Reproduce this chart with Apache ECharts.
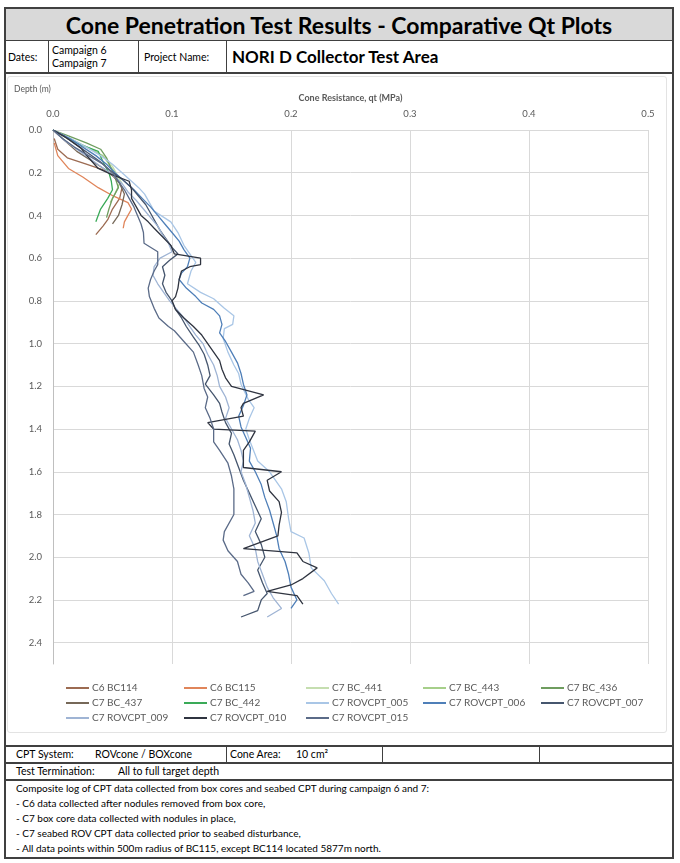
<!DOCTYPE html>
<html>
	<head>
		<meta charset="utf-8">
		<title>CPT Comparative Qt Plots</title>
		<style type="text/css">
			* {
				margin: 0;
				padding: 0;
			}

			body {
				width: 680px;
				height: 863px;
				background: #fff;
				font-family: Lato, "Open Sans", sans-serif;
				color: #000;
				position: relative;
			}

			.cell {
				position: absolute;
				box-sizing: border-box;
				white-space: nowrap;
			}

			#sheet {
				position: absolute;
				left: 4px;
				top: 7px;
				width: 670px;
				height: 852px;
				border: 2px solid #404040;
				box-sizing: border-box;
			}

			#cpt {
				position: absolute;
				left: 7px;
				top: 76px;
				width: 660px;
				height: 657px;
				border: 1px solid #e3e3e3;
				border-radius: 3px;
				box-sizing: border-box;
			}
		</style>
		<script src="https://cdn.jsdelivr.net/npm/echarts@6.0.0/dist/echarts.min.js"></script>
	</head>
	<body>
		<div id="sheet"></div>
		<!-- 标题行 -->
		<div class="cell" style="left:6px;top:9px;width:666px;height:32px;background:#d9d9d9;border-bottom:1.5px solid #404040;text-align:center;font-weight:bold;font-size:23px;line-height:32px;">Cone Penetration Test Results - Comparative Qt Plots</div>
		<!-- 日期 / 项目 -->
		<div class="cell" style="left:6px;top:41px;width:43px;height:32px;border-right:1.5px solid #404040;font-size:10.5px;line-height:32px;padding-left:2px;">Dates:</div>
		<div class="cell" style="left:49px;top:41px;width:90px;height:32px;border-right:1.5px solid #404040;font-size:10.5px;line-height:13px;padding:3px 0 0 3px;">Campaign 6<br>Campaign 7</div>
		<div class="cell" style="left:139px;top:41px;width:88px;height:32px;border-right:1.5px solid #404040;font-size:10.5px;line-height:32px;padding-left:5px;">Project Name:</div>
		<div class="cell" style="left:227px;top:41px;width:445px;height:32px;font-size:17px;font-weight:bold;line-height:32px;padding-left:5px;">NORI D Collector Test Area</div>
		<div class="cell" style="left:6px;top:72px;width:666px;height:1.5px;background:#404040;"></div>

		<div id="cpt"></div>

		<!-- 底部信息 -->
		<div class="cell" style="left:6px;top:745px;width:666px;height:1.5px;background:#404040;"></div>
		<div class="cell" style="left:6px;top:746px;width:221px;height:16px;border-right:1.5px solid #404040;font-size:10.5px;line-height:16px;padding-left:10px;">CPT System:<span style="position:absolute;left:89px;">ROVcone / BOXcone</span></div>
		<div class="cell" style="left:227px;top:746px;width:156px;height:16px;border-right:1.5px solid #404040;font-size:10.5px;line-height:16px;padding-left:3px;">Cone Area:<span style="position:absolute;left:69px;">10 cm²</span></div>
		<div class="cell" style="left:383px;top:746px;width:157px;height:16px;border-right:1.5px solid #404040;"></div>
		<div class="cell" style="left:6px;top:762px;width:666px;height:1.5px;background:#404040;"></div>
		<div class="cell" style="left:6px;top:763px;width:666px;height:16px;font-size:10.5px;line-height:17px;padding-left:10px;">Test Termination:<span style="position:absolute;left:112px;">All to full target depth</span></div>
		<div class="cell" style="left:6px;top:779px;width:666px;height:1.5px;background:#404040;"></div>
		<div class="cell" style="left:6px;top:781px;width:666px;font-size:10px;line-height:15px;padding-left:10px;">
			Composite log of CPT data collected from box cores and seabed CPT during campaign 6 and 7:<br>
			- C6 data collected after nodules removed from box core,<br>
			- C7 box core data collected with nodules in place,<br>
			- C7 seabed ROV CPT data collected prior to seabed disturbance,<br>
			- All data points within 500m radius of BC115, except BC114 located 5877m north.
		</div>
	</body>
	<script type="text/javascript">
		// 坐标轴刻度
		var qtTicks = [0, 0.1, 0.2, 0.3, 0.4, 0.5];
		var depthTicks = [0, 0.2, 0.4, 0.6, 0.8, 1.0, 1.2, 1.4, 1.6, 1.8, 2.0, 2.2, 2.4];

		// 每条曲线 [qt (MPa), depth (m)]
		var c6BC114 = [[0.001, 0.04], [0.004, 0.09], [0.012, 0.13], [0.028, 0.16], [0.044, 0.19], [0.054, 0.23], [0.058, 0.27], [0.056, 0.32], [0.05, 0.37], [0.046, 0.42], [0.042, 0.45], [0.036, 0.49]];
		var c6BC115 = [[0.001, 0.06], [0.004, 0.12], [0.013, 0.18], [0.025, 0.22], [0.038, 0.27], [0.051, 0.31], [0.063, 0.34], [0.066, 0.37], [0.063, 0.4], [0.06, 0.43], [0.059, 0.46]];
		var c7BC441 = [[0, 0], [0.018, 0.05], [0.032, 0.09], [0.044, 0.13], [0.05, 0.17], [0.054, 0.21], [0.058, 0.25]];
		var c7BC443 = [[0, 0], [0.012, 0.04], [0.028, 0.08], [0.042, 0.12], [0.047, 0.16], [0.052, 0.2], [0.056, 0.25], [0.052, 0.3], [0.048, 0.34]];
		var c7BC436 = [[0, 0], [0.014, 0.03], [0.028, 0.06], [0.04, 0.09], [0.045, 0.13], [0.048, 0.17], [0.052, 0.22], [0.055, 0.27], [0.05, 0.32], [0.047, 0.37], [0.045, 0.41]];
		var c7BC437 = [[0, 0], [0.01, 0.05], [0.02, 0.1], [0.034, 0.15], [0.048, 0.2], [0.056, 0.25], [0.06, 0.3], [0.058, 0.35], [0.055, 0.4], [0.05, 0.44]];
		var c7BC442 = [[0, 0], [0.01, 0.03], [0.024, 0.07], [0.038, 0.1], [0.043, 0.16], [0.047, 0.2], [0.049, 0.24], [0.05, 0.28], [0.046, 0.32], [0.04, 0.37], [0.036, 0.43]];
		var c7ROV005 = [[0, 0], [0.015, 0.04], [0.028, 0.08], [0.04, 0.12], [0.05, 0.16], [0.058, 0.2], [0.066, 0.24], [0.072, 0.27], [0.077, 0.3], [0.085, 0.38], [0.099, 0.43], [0.105, 0.48], [0.11, 0.54], [0.115, 0.58], [0.12, 0.62], [0.116, 0.66], [0.113, 0.72], [0.124, 0.76], [0.135, 0.79], [0.144, 0.835], [0.152, 0.87], [0.151, 0.91], [0.144, 0.93], [0.143, 0.976], [0.147, 1.04], [0.152, 1.1], [0.156, 1.14], [0.158, 1.19], [0.164, 1.26], [0.169, 1.3], [0.165, 1.35], [0.162, 1.4], [0.165, 1.45], [0.172, 1.55], [0.182, 1.6], [0.192, 1.68], [0.196, 1.74], [0.198, 1.82], [0.2, 1.88], [0.211, 1.91], [0.215, 1.98], [0.217, 2.05], [0.228, 2.11], [0.234, 2.17], [0.24, 2.22]];
		var c7ROV006 = [[0, 0], [0.014, 0.04], [0.025, 0.08], [0.036, 0.12], [0.045, 0.16], [0.052, 0.2], [0.06, 0.24], [0.068, 0.28], [0.075, 0.32], [0.082, 0.36], [0.088, 0.4], [0.094, 0.44], [0.1, 0.48], [0.106, 0.52], [0.11, 0.56], [0.115, 0.6], [0.113, 0.64], [0.108, 0.67], [0.106, 0.7], [0.112, 0.74], [0.12, 0.78], [0.125, 0.81], [0.135, 0.84], [0.14, 0.87], [0.142, 0.91], [0.14, 0.95], [0.145, 0.99], [0.15, 1.04], [0.155, 1.09], [0.158, 1.14], [0.16, 1.19], [0.163, 1.24], [0.16, 1.29], [0.156, 1.34], [0.158, 1.39], [0.162, 1.44], [0.166, 1.49], [0.165, 1.55], [0.17, 1.6], [0.175, 1.66], [0.178, 1.72], [0.182, 1.78], [0.185, 1.84], [0.188, 1.9], [0.19, 1.96], [0.195, 2.02], [0.198, 2.08], [0.2, 2.14], [0.205, 2.2], [0.2, 2.24]];
		var c7ROV007 = [[0, 0], [0.01, 0.03], [0.02, 0.07], [0.03, 0.11], [0.04, 0.15], [0.048, 0.19], [0.058, 0.23], [0.066, 0.27], [0.072, 0.31], [0.078, 0.35], [0.082, 0.39], [0.086, 0.43], [0.09, 0.47], [0.095, 0.51], [0.1, 0.55], [0.105, 0.58], [0.098, 0.61], [0.092, 0.64], [0.094, 0.68], [0.092, 0.72], [0.095, 0.76], [0.1, 0.8], [0.103, 0.84], [0.108, 0.88], [0.112, 0.92], [0.118, 0.97], [0.123, 1.01], [0.127, 1.05], [0.13, 1.1], [0.132, 1.15], [0.128, 1.19], [0.135, 1.24], [0.14, 1.28], [0.142, 1.32], [0.145, 1.37], [0.15, 1.42], [0.148, 1.47], [0.152, 1.52], [0.156, 1.58], [0.16, 1.64], [0.165, 1.7], [0.17, 1.76], [0.175, 1.82], [0.17, 1.88], [0.175, 1.94], [0.178, 2.0], [0.172, 2.06], [0.176, 2.12], [0.18, 2.17], [0.175, 2.2], [0.172, 2.25], [0.158, 2.28]];
		var c7ROV009 = [[0, 0], [0.01, 0.05], [0.02, 0.09], [0.03, 0.13], [0.04, 0.17], [0.05, 0.21], [0.058, 0.25], [0.063, 0.29], [0.07, 0.33], [0.076, 0.37], [0.082, 0.41], [0.088, 0.45], [0.092, 0.49], [0.097, 0.53], [0.1, 0.57], [0.09, 0.6], [0.085, 0.64], [0.084, 0.68], [0.088, 0.72], [0.093, 0.76], [0.098, 0.8], [0.104, 0.84], [0.11, 0.88], [0.115, 0.92], [0.12, 0.96], [0.126, 1.0], [0.13, 1.05], [0.135, 1.1], [0.138, 1.15], [0.14, 1.2], [0.145, 1.25], [0.148, 1.3], [0.145, 1.35], [0.15, 1.4], [0.155, 1.45], [0.158, 1.5], [0.16, 1.55], [0.158, 1.6], [0.162, 1.66], [0.165, 1.72], [0.168, 1.78], [0.17, 1.84], [0.165, 1.9], [0.17, 1.96], [0.172, 2.02], [0.176, 2.08], [0.18, 2.14], [0.185, 2.19], [0.192, 2.24], [0.18, 2.28]];
		var c7ROV010 = [[0, 0], [0.012, 0.04], [0.0235, 0.085], [0.03, 0.13], [0.038, 0.18], [0.05, 0.21], [0.064, 0.24], [0.066, 0.28], [0.066, 0.32], [0.07, 0.36], [0.074, 0.4], [0.08, 0.43], [0.085, 0.46], [0.092, 0.5], [0.099, 0.54], [0.102, 0.58], [0.124, 0.6], [0.124, 0.63], [0.115, 0.64], [0.108, 0.66], [0.106, 0.7], [0.105, 0.74], [0.103, 0.78], [0.1, 0.8], [0.103, 0.84], [0.11, 0.88], [0.118, 0.92], [0.125, 0.96], [0.13, 1.0], [0.135, 1.04], [0.14, 1.08], [0.142, 1.12], [0.145, 1.16], [0.15, 1.2], [0.177, 1.24], [0.16, 1.28], [0.158, 1.3], [0.16, 1.34], [0.13, 1.37], [0.135, 1.4], [0.17, 1.41], [0.165, 1.46], [0.16, 1.5], [0.16, 1.58], [0.192, 1.6], [0.18, 1.64], [0.182, 1.69], [0.19, 1.74], [0.192, 1.79], [0.19, 1.85], [0.189, 1.9], [0.16, 1.96], [0.205, 1.98], [0.21, 2.02], [0.222, 2.05], [0.21, 2.1], [0.2, 2.13], [0.18, 2.16], [0.205, 2.18], [0.21, 2.22]];
		var c7ROV015 = [[0, 0], [0.008, 0.04], [0.018, 0.08], [0.03, 0.12], [0.042, 0.16], [0.05, 0.2], [0.055, 0.24], [0.06, 0.28], [0.064, 0.32], [0.068, 0.36], [0.071, 0.4], [0.074, 0.44], [0.076, 0.48], [0.0765, 0.53], [0.088, 0.57], [0.088, 0.63], [0.085, 0.66], [0.082, 0.7], [0.08, 0.74], [0.081, 0.78], [0.085, 0.835], [0.089, 0.88], [0.097, 0.92], [0.102, 0.94], [0.11, 0.99], [0.118, 1.04], [0.122, 1.1], [0.125, 1.15], [0.127, 1.21], [0.13, 1.25], [0.128, 1.3], [0.132, 1.35], [0.135, 1.4], [0.135, 1.46], [0.14, 1.5], [0.147, 1.56], [0.15, 1.62], [0.152, 1.68], [0.152, 1.74], [0.152, 1.8], [0.144, 1.88], [0.143, 1.92], [0.147, 1.97], [0.155, 2.02], [0.158, 2.08], [0.164, 2.12], [0.169, 2.16], [0.16, 2.18]];

		var seriesNames = ['C6 BC114', 'C6 BC115', 'C7 BC_441', 'C7 BC_443', 'C7 BC_436', 'C7 BC_437', 'C7 BC_442', 'C7 ROVCPT_005', 'C7 ROVCPT_006', 'C7 ROVCPT_007', 'C7 ROVCPT_009', 'C7 ROVCPT_010', 'C7 ROVCPT_015'];
		var seriesData = [c6BC114, c6BC115, c7BC441, c7BC443, c7BC436, c7BC437, c7BC442, c7ROV005, c7ROV006, c7ROV007, c7ROV009, c7ROV010, c7ROV015];
		var seriesColors = ['#9c6b52', '#e0855a', '#c5deb0', '#a6cf8a', '#6f9d5f', '#766858', '#3aaa58', '#a9c6e6', '#4f7fb8', '#46566e', '#9fb4d4', '#2f3440', '#5b6b88'];

		var cptChart = echarts.init(document.getElementById('cpt'));

		var series = [];
		for (var i = 0; i < seriesNames.length; i++) {
			series.push({
				name: seriesNames[i],
				type: 'line',
				data: seriesData[i],
				showSymbol: false,
				symbol: 'none',
				lineStyle: {
					width: 1.3,
					color: seriesColors[i]
				},
				itemStyle: {
					color: seriesColors[i]
				}
			});
		}

		// 图例分5列，每列竖排
		var legendCols = [58, 176, 298, 415, 533];
		var legends = [];
		for (var c = 0; c < 5; c++) {
			var names = [];
			for (var r = 0; r < 3; r++) {
				if (r * 5 + c < seriesNames.length) names.push(seriesNames[r * 5 + c]);
			}
			legends.push({
				orient: 'vertical',
				left: legendCols[c],
				top: 605,
				height: 50,
				padding: 0,
				itemWidth: 23,
				itemHeight: 2,
				itemGap: 3,
				icon: 'rect',
				data: names,
				textStyle: {
					color: '#595959',
					fontSize: 10,
					fontFamily: 'Lato',
					lineHeight: 12,
					padding: [0, 0, 0, -2]
				}
			});
		}

		var option = {
			animation: false,
			title: {
				text: 'Depth (m)',
				left: 1,
				top: 3,
				textStyle: {
					color: '#595959',
					fontSize: 8.5,
					fontWeight: 'normal',
					fontFamily: 'Lato'
				}
			},
			legend: legends,
			grid: {
				left: 45,
				top: 53,
				width: 595,
				height: 534
			},
			xAxis: {
				type: 'value',
				position: 'top',
				min: qtTicks[0],
				max: qtTicks[qtTicks.length - 1],
				interval: 0.1,
				name: 'Cone Resistance, qt (MPa)',
				nameLocation: 'middle',
				nameGap: 27,
				nameTextStyle: {
					color: '#595959',
					fontSize: 9,
					fontWeight: 'bold',
					fontFamily: 'Lato'
				},
				axisLine: {
					onZero: false,
					lineStyle: { color: '#d9d9d9' }
				},
				axisTick: { show: false },
				axisLabel: {
					color: '#595959',
					fontSize: 9.5,
					fontFamily: 'Lato',
					margin: 11,
					formatter: function(v) { return v.toFixed(1); }
				},
				splitLine: {
					lineStyle: { color: '#d9d9d9' }
				}
			},
			yAxis: {
				type: 'value',
				inverse: true,
				min: depthTicks[0],
				max: 2.5,
				interval: 0.2,
				axisLine: {
					show: true,
					lineStyle: { color: '#bfbfbf' }
				},
				axisTick: { show: false },
				axisLabel: {
					color: '#595959',
					fontSize: 9.5,
					fontFamily: 'Lato',
					margin: 11,
					showMaxLabel: false,
					formatter: function(v) {
						return depthTicks.indexOf(Math.round(v * 10) / 10) >= 0 ? v.toFixed(1) : '';
					}
				},
				splitLine: {
					showMaxLine: false,
					lineStyle: { color: '#d9d9d9' }
				}
			},
			series: series
		};

		cptChart.setOption(option);
	</script>
</html>
